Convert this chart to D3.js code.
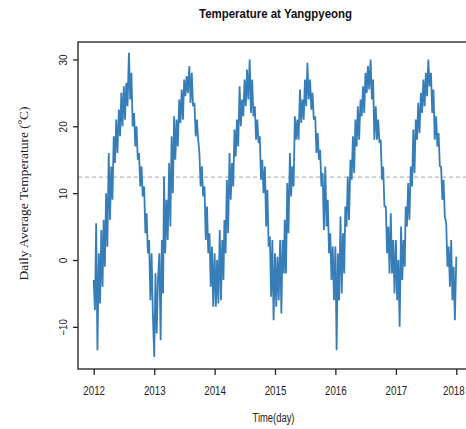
<!DOCTYPE html>
<html>
<head>
<meta charset="utf-8">
<script src="https://cdn.jsdelivr.net/npm/d3@7"></script>
<style>
  html, body { margin: 0; padding: 0; background: #fff; }
  svg { display: block; }
</style>
</head>
<body>
<div id="chart"></div>
<script>
// ---- data (4 samples per month: ~1st, 8th, 16th, 23rd) ----
const years = [2012, 2013, 2014, 2015, 2016, 2017];
const xTickLabels = ["2012", "2013", "2014", "2015", "2016", "2017", "2018"];
const yTickValues = [-10, 0, 10, 20, 30];
const meanTemp = 12.4;

const temps2012 = [
  -3, -7.5, 5.5, -13.5,   1, -6.5, 4.5, -4,   6, -1, 10, 2,   16, 6, 14, 9,
  18.5, 14.5, 21, 16,   22.5, 18.5, 25, 20,   26, 21, 26.5, 23,   31, 24, 28, 20,
  22, 17, 20, 15,   16, 11, 14, 9.5,   11, 4, 7, 1,   3, -6, 1, -8
];
const temps2013 = [
  -14.5, -2, -11, -3,   1, -12, 3, -5,   12.5, 1, 9, 3,   14.5, 5, 18.5, 10,
  21.5, 15, 21, 17,   24, 20.5, 25.5, 21,   27, 24.5, 27.5, 25,   29, 23.5, 28, 23,
  23.5, 18.5, 21, 18,   16, 11, 14, 9.5,   11, 3, 8, 1,   4, -4, 2, -7
];
const temps2014 = [
  1, -7, 0, -6.5,   4.5, -6, 3, -3,   6, 1, 12, 4,   16, 9, 14.5, 11,
  19.5, 15.5, 21, 17,   26, 20, 24, 21.5,   27, 23, 28.5, 24,   30, 22, 27, 21.5,
  23, 18, 21, 17.5,   18.5, 12, 15, 10,   14, 5, 10.5, 2,   3.5, -5.5, 3, -9
];
const temps2015 = [
  1, -7, 0.5, -6,   3, -8, 3, -2,   6, -2, 11.5, 4,   16, 9.5, 14, 11,
  21.5, 18, 21, 18,   25.5, 20.5, 24, 21,   27, 23, 29.5, 24,   27, 22.5, 25, 21,
  21.5, 16, 19, 15,   16.5, 11, 13, 4.5,   14, 5, 9, 1,   4, -3, 2, -6
];
const temps2016 = [
  2, -13.5, 1, -6,   6.5, -5, 4, -2,   8, 5, 12.5, 6,   15, 12, 18.5, 13,
  21, 17, 23, 18,   24, 21.5, 26, 22,   28, 25, 29, 25.5,   30, 24, 27, 18,
  23, 18, 21, 17.5,   18, 12, 14, 8,   8, 1, 5, -2,   7, -2, 3, -5
];
const temps2017 = [
  3, -6, 0, -10,   5, -3, 3, -1,   8, 5, 11.5, 6,   14, 11, 19.5, 13,
  21, 18, 23.5, 19,   25, 22, 27, 23,   28, 24.5, 30, 26,   28, 22, 25.5, 18,
  21.5, 17, 19, 14,   14, 9, 12, 6.5,   5.5, -1, 2, -4,   3, -6, -1, -9,
  0.5
];
const yearlyTemps = [temps2012, temps2013, temps2014, temps2015, temps2016, temps2017];

// build the (date, value) table
const sampleDays = [0, 7.5, 15, 22.5];
const series = [];
yearlyTemps.forEach((arr, yi) => {
  arr.forEach((v, k) => {
    const m = Math.floor(k / 4);
    const d = new Date(years[yi], m, 1);
    d.setTime(d.getTime() + sampleDays[k % 4] * 864e5);
    series.push({ date: d, value: v });
  });
});

// ---- layout ----
const W = 466, H = 429;
const plot = { left: 78, right: 467, top: 42, bottom: 369 };

const svg = d3.select("#chart").append("svg")
  .attr("width", W).attr("height", H);

const x = d3.scaleTime()
  .domain([new Date(2012, 0, 1), new Date(2018, 0, 1)])
  .range([93.7, 456.3]);
const y = d3.scaleLinear()
  .domain([-10, 30])
  .range([326.85, 59.45]);

// mean dashed line
svg.append("line")
  .attr("x1", plot.left).attr("x2", plot.right)
  .attr("y1", y(meanTemp)).attr("y2", y(meanTemp))
  .attr("stroke", "#b8b8b8").attr("stroke-width", 1.2)
  .attr("stroke-dasharray", "4,3");

// temperature line
const line = d3.line().x(d => x(d.date)).y(d => y(d.value));
svg.append("path")
  .datum(series)
  .attr("d", line)
  .attr("fill", "none")
  .attr("stroke", "#377EB8")
  .attr("stroke-width", 1.8)
  .attr("stroke-linejoin", "bevel");

// frame
svg.append("rect")
  .attr("x", plot.left).attr("y", plot.top)
  .attr("width", plot.right - plot.left).attr("height", plot.bottom - plot.top)
  .attr("fill", "none").attr("stroke", "#3c3c3c").attr("stroke-width", 1.5);

// x axis
const xAxis = d3.axisBottom(x)
  .tickValues(xTickLabels.map(s => new Date(+s, 0, 1)))
  .tickFormat((d, i) => xTickLabels[i])
  .tickSize(6).tickSizeOuter(0);
const gx = svg.append("g").attr("transform", `translate(0,${plot.bottom})`).call(xAxis);
gx.select(".domain").remove();
gx.selectAll(".tick line").attr("stroke", "#222").attr("stroke-width", 1.3);
gx.selectAll(".tick text")
  .attr("y", 26).attr("dy", null)
  .attr("x", (d, i) => i === xTickLabels.length - 1 ? -4 : 0)
  .attr("transform", "scale(0.75,1)")
  .attr("font-family", "Liberation Sans, Arial, sans-serif")
  .attr("font-size", 13).attr("fill", "#222");

// y axis
const yAxis = d3.axisLeft(y).tickValues(yTickValues).tickSize(5).tickSizeOuter(0);
const gy = svg.append("g").attr("transform", `translate(${plot.left},0)`).call(yAxis);
gy.select(".domain").remove();
gy.selectAll(".tick line").attr("stroke", "#222").attr("stroke-width", 1.3);
gy.selectAll(".tick text")
  .attr("x", null).attr("dy", null)
  .attr("text-anchor", "middle")
  .attr("font-family", "Liberation Sans, Arial, sans-serif")
  .attr("font-size", 13).attr("fill", "#222")
  .attr("transform", "translate(-11,0) scale(0.8,1) rotate(-90)")
  .attr("textLength", d => String(d).length * 5.6)
  .attr("lengthAdjust", "spacingAndGlyphs");

// title
svg.append("text")
  .attr("x", 275.5).attr("y", 18)
  .attr("text-anchor", "middle")
  .attr("font-family", "Liberation Sans, Arial, sans-serif")
  .attr("font-size", 13.5).attr("font-weight", "bold").attr("fill", "#111")
  .attr("textLength", 153).attr("lengthAdjust", "spacingAndGlyphs")
  .text("Temperature at Yangpyeong");

// x title
svg.append("text")
  .attr("x", 273.5).attr("y", 422)
  .attr("text-anchor", "middle")
  .attr("font-family", "Liberation Sans, Arial, sans-serif")
  .attr("font-size", 12.5).attr("fill", "#222")
  .attr("textLength", 42).attr("lengthAdjust", "spacingAndGlyphs")
  .text("Time(day)");

// y title
svg.append("text")
  .attr("transform", "translate(28,193.5) rotate(-90)")
  .attr("text-anchor", "middle")
  .attr("font-family", "Liberation Serif, Times New Roman, serif")
  .attr("font-size", 13.5).attr("fill", "#222")
  .text("Daily Average Temperature (ºC)");
</script>
</body>
</html>
